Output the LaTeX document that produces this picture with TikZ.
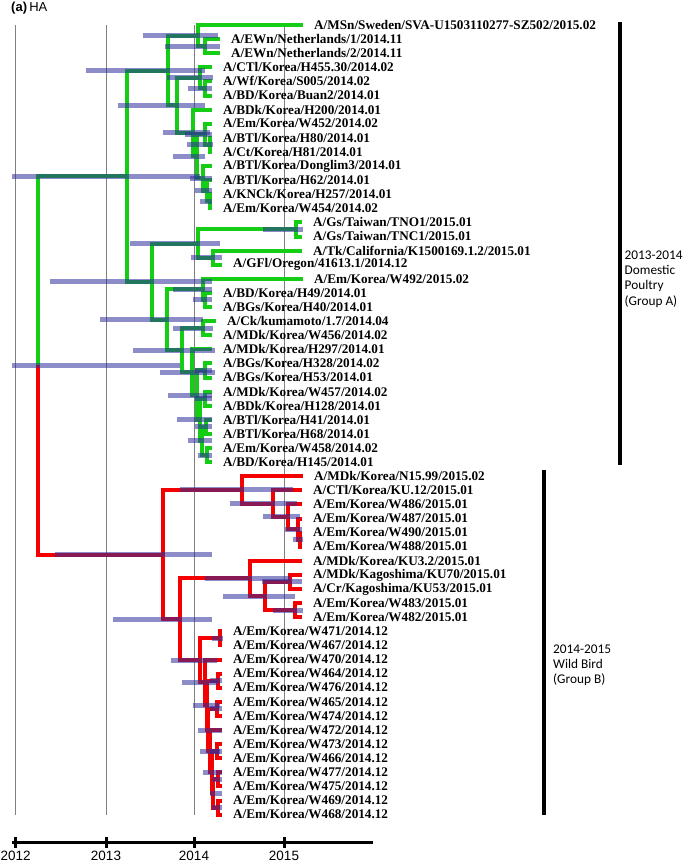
\documentclass[tikz,border=0pt]{standalone}
\usepackage{fontspec}
\setmainfont{Liberation Serif}
\newfontfamily\sansf{Liberation Sans}
\newfontfamily\calib{Carlito}
\definecolor{gr}{RGB}{20,205,20}
\definecolor{rd}{RGB}{245,0,0}
\definecolor{hpdc}{RGB}{46,46,155}
\definecolor{gridc}{RGB}{128,128,128}
\newcommand\mytip[3]{\coordinate (t#1) at (#2,{25+(#1-1)*14.1}); \node[lab] (l#1) at ([xshift=11pt]t#1) {#3};}
\newcommand\myhpd[3]{\draw[hpdst] (#2,0 |- #1) -- (#3,0 |- #1);}
\begin{document}
\begin{tikzpicture}[x=1pt,y=-1pt,
  gbr/.style={draw=gr,line width=4pt},
  rbr/.style={draw=rd,line width=4pt},
  hpdst/.style={draw=hpdc,draw opacity=0.55,line width=5pt},
  lab/.style={anchor=west,inner sep=0pt,font=\fontsize{13.2}{14}\selectfont\bfseries},
  gridl/.style={draw=gridc,line width=1pt},
  grplab/.style={anchor=west,inner sep=0pt,align=left,font=\calib\fontsize{13.3}{15.2}\selectfont},
  axlab/.style={inner sep=0pt,font=\sansf\fontsize{13.5}{15}\selectfont}]
\useasboundingbox (0,0) rectangle (685,862);
% title
\node[anchor=west,inner sep=0pt,font=\sansf\fontsize{13}{15}\selectfont] (title) at (11,8.5) {\textbf{(a)}\,HA};
% grid
\foreach \gx in {15,106,194,284} \draw[gridl] (\gx,25) -- (\gx,815);
% tips
\mytip{1}{303}{A/MSn/Sweden/SVA-U1503110277-SZ502/2015.02}
\mytip{2}{220}{A/EWn/Netherlands/1/2014.11}
\mytip{3}{220}{A/EWn/Netherlands/2/2014.11}
\mytip{4}{212}{A/CTl/Korea/H455.30/2014.02}
\mytip{5}{212}{A/Wf/Korea/S005/2014.02}
\mytip{6}{212}{A/BD/Korea/Buan2/2014.01}
\mytip{7}{212}{A/BDk/Korea/H200/2014.01}
\mytip{8}{212}{A/Em/Korea/W452/2014.02}
\mytip{9}{212}{A/BTl/Korea/H80/2014.01}
\mytip{10}{212}{A/Ct/Korea/H81/2014.01}
\mytip{11}{212}{A/BTl/Korea/Donglim3/2014.01}
\mytip{12}{212}{A/BTl/Korea/H62/2014.01}
\mytip{13}{212}{A/KNCk/Korea/H257/2014.01}
\mytip{14}{212}{A/Em/Korea/W454/2014.02}
\mytip{15}{302}{A/Gs/Taiwan/TNO1/2015.01}
\mytip{16}{302}{A/Gs/Taiwan/TNC1/2015.01}
\mytip{17}{302}{A/Tk/California/K1500169.1.2/2015.01}
\mytip{18}{222}{A/GFl/Oregon/41613.1/2014.12}
\mytip{19}{303}{A/Em/Korea/W492/2015.02}
\mytip{20}{212}{A/BD/Korea/H49/2014.01}
\mytip{21}{212}{A/BGs/Korea/H40/2014.01}
\mytip{22}{216}{A/Ck/kumamoto/1.7/2014.04}
\mytip{23}{212}{A/MDk/Korea/W456/2014.02}
\mytip{24}{212}{A/MDk/Korea/H297/2014.01}
\mytip{25}{212}{A/BGs/Korea/H328/2014.02}
\mytip{26}{212}{A/BGs/Korea/H53/2014.01}
\mytip{27}{212}{A/MDk/Korea/W457/2014.02}
\mytip{28}{212}{A/BDk/Korea/H128/2014.01}
\mytip{29}{212}{A/BTl/Korea/H41/2014.01}
\mytip{30}{212}{A/BTl/Korea/H68/2014.01}
\mytip{31}{212}{A/Em/Korea/W458/2014.02}
\mytip{32}{212}{A/BD/Korea/H145/2014.01}
\mytip{33}{303}{A/MDk/Korea/N15.99/2015.02}
\mytip{34}{302}{A/CTl/Korea/KU.12/2015.01}
\mytip{35}{302}{A/Em/Korea/W486/2015.01}
\mytip{36}{302}{A/Em/Korea/W487/2015.01}
\mytip{37}{302}{A/Em/Korea/W490/2015.01}
\mytip{38}{302}{A/Em/Korea/W488/2015.01}
\mytip{39}{302}{A/MDk/Korea/KU3.2/2015.01}
\mytip{40}{302}{A/MDk/Kagoshima/KU70/2015.01}
\mytip{41}{302}{A/Cr/Kagoshima/KU53/2015.01}
\mytip{42}{302}{A/Em/Korea/W483/2015.01}
\mytip{43}{302}{A/Em/Korea/W482/2015.01}
\mytip{44}{222}{A/Em/Korea/W471/2014.12}
\mytip{45}{222}{A/Em/Korea/W467/2014.12}
\mytip{46}{222}{A/Em/Korea/W470/2014.12}
\mytip{47}{222}{A/Em/Korea/W464/2014.12}
\mytip{48}{222}{A/Em/Korea/W476/2014.12}
\mytip{49}{222}{A/Em/Korea/W465/2014.12}
\mytip{50}{222}{A/Em/Korea/W474/2014.12}
\mytip{51}{222}{A/Em/Korea/W472/2014.12}
\mytip{52}{222}{A/Em/Korea/W473/2014.12}
\mytip{53}{222}{A/Em/Korea/W466/2014.12}
\mytip{54}{222}{A/Em/Korea/W477/2014.12}
\mytip{55}{222}{A/Em/Korea/W475/2014.12}
\mytip{56}{222}{A/Em/Korea/W469/2014.12}
\mytip{57}{222}{A/Em/Korea/W468/2014.12}
% internal nodes
\coordinate (R) at (38,365.35);
\coordinate (GA) at (127,176.1);
\coordinate (N2) at (168,70.5);
\coordinate (N1) at (198,35.6);
\coordinate (NL) at (205,46.15);
\coordinate (N3) at (177,105.4);
\coordinate (N4) at (200,77.9);
\coordinate (WB) at (205,88.45);
\coordinate (N5) at (193,132.95);
\coordinate (N6) at (197,156.3);
\coordinate (N7) at (205,134.3);
\coordinate (Q910) at (210,144.85);
\coordinate (N8) at (203,178.35);
\coordinate (Q1214) at (207,190.7);
\coordinate (Q1314) at (210,201.25);
\coordinate (A2) at (152,281.7);
\coordinate (A3) at (198,243.55);
\coordinate (TW) at (296,229.45);
\coordinate (CO) at (213,257.65);
\coordinate (A4) at (167,319.8);
\coordinate (A5) at (203,289.4);
\coordinate (Q2021) at (205,299.95);
\coordinate (A6) at (182,350.2);
\coordinate (A7) at (203,328.15);
\coordinate (A8) at (192,372.2);
\coordinate (A9) at (197,395.1);
\coordinate (A10) at (205,370.45);
\coordinate (A11) at (200,419.8);
\coordinate (Q2728) at (205,398.65);
\coordinate (A12) at (202,440.95);
\coordinate (Q2930) at (206,426.85);
\coordinate (Q3132) at (207,455.05);
\coordinate (B) at (163,554.6);
\coordinate (B1) at (242,489.85);
\coordinate (B3) at (273,503.5);
\coordinate (B4) at (288,516.75);
\coordinate (B5) at (298,529.1);
\coordinate (B6) at (300,539.65);
\coordinate (B2) at (180,619.4);
\coordinate (B7) at (250,578.4);
\coordinate (B9) at (265,596.05);
\coordinate (Q4041) at (290,581.95);
\coordinate (Q4243) at (295,610.15);
\coordinate (B8) at (200,660.4);
\coordinate (Q4445) at (220,638.35);
\coordinate (B11) at (205,682.4);
\coordinate (B12) at (207,705.3);
\coordinate (Q4748) at (218,680.65);
\coordinate (B13) at (208,730);
\coordinate (Q4950) at (217,708.85);
\coordinate (B14) at (210,751.15);
\coordinate (B15) at (212,772.3);
\coordinate (Q5253) at (217,751.15);
\coordinate (B16) at (213,793.45);
\coordinate (Q5455) at (218,779.35);
\coordinate (Q5657) at (218,807.55);
% green branches
\foreach \p/\c in {R/GA,GA/N2,GA/A2,N2/N1,N2/N3,N1/t1,N1/NL,NL/t2,NL/t3,N3/N4,N3/N5,N4/t4,N4/WB,WB/t5,WB/t6,
  N5/t7,N5/N6,N6/N7,N6/N8,N7/t8,N7/Q910,Q910/t9,Q910/t10,N8/t11,N8/Q1214,Q1214/t12,Q1214/Q1314,Q1314/t13,Q1314/t14,
  A2/A3,A2/A4,A3/TW,A3/CO,TW/t15,TW/t16,CO/t17,CO/t18,A4/A5,A4/A6,A5/t19,A5/Q2021,Q2021/t20,Q2021/t21,
  A6/A7,A6/A8,A7/t22,A7/t23,A8/t24,A8/A9,A9/A10,A9/A11,A10/t25,A10/t26,A11/Q2728,A11/A12,Q2728/t27,Q2728/t28,
  A12/Q2930,A12/Q3132,Q2930/t29,Q2930/t30,Q3132/t31,Q3132/t32}
  \draw[gbr] (\p) |- (\c);
% red branches
\foreach \p/\c in {R/B,B/B1,B/B2,B1/t33,B1/B3,B3/t34,B3/B4,B4/t35,B4/B5,B5/t36,B5/B6,B6/t37,B6/t38,
  B2/B7,B2/B8,B7/t39,B7/B9,B9/Q4041,B9/Q4243,Q4041/t40,Q4041/t41,Q4243/t42,Q4243/t43,
  B8/Q4445,B8/B11,Q4445/t44,Q4445/t45,B11/t46,B11/B12,B12/Q4748,B12/B13,Q4748/t47,Q4748/t48,
  B13/Q4950,B13/B14,Q4950/t49,Q4950/t50,B14/t51,B14/B15,B15/Q5253,B15/B16,Q5253/t52,Q5253/t53,
  B16/Q5455,B16/Q5657,Q5455/t54,Q5455/t55,Q5657/t56,Q5657/t57}
  \draw[rbr] (\p) |- (\c);
% HPD bars
\myhpd{R}{12}{180}
\myhpd{GA}{12}{200}
\myhpd{N2}{86}{205}
\myhpd{N1}{143}{218}
\myhpd{NL}{165}{220}
\myhpd{N3}{118}{205}
\myhpd{N4}{167}{213}
\myhpd{WB}{188}{212}
\myhpd{N5}{163}{210}
\myhpd{N7}{185}{212}
\myhpd{Q910}{187}{213}
\myhpd{N6}{173}{205}
\myhpd{N8}{190}{212}
\myhpd{Q1214}{195}{212}
\myhpd{Q1314}{200}{212}
\myhpd{A2}{50}{212}
\myhpd{A3}{130}{220}
\myhpd{TW}{263}{303}
\myhpd{CO}{191}{222}
\myhpd{A4}{100}{203}
\myhpd{A5}{173}{212}
\myhpd{Q2021}{193}{212}
\myhpd{A6}{133}{215}
\myhpd{A7}{173}{213}
\myhpd{A8}{160}{215}
\myhpd{A9}{168}{212}
\myhpd{A10}{195}{212}
\myhpd{Q2728}{195}{212}
\myhpd{A11}{177}{212}
\myhpd{A12}{188}{212}
\myhpd{Q2930}{195}{212}
\myhpd{Q3132}{198}{212}
\myhpd{B}{55}{212}
\myhpd{B1}{180}{293}
\myhpd{B3}{230}{297}
\myhpd{B4}{263}{300}
\myhpd{B5}{285}{302}
\myhpd{B6}{293}{303}
\myhpd{B2}{113}{212}
\myhpd{B7}{205}{290}
\myhpd{B9}{223}{295}
\myhpd{Q4041}{262}{302}
\myhpd{Q4243}{273}{303}
\myhpd{B8}{171}{217}
\myhpd{Q4445}{212}{223}
\myhpd{B11}{182}{218}
\myhpd{B12}{193}{220}
\myhpd{Q4748}{210}{222}
\myhpd{B13}{198}{222}
\myhpd{Q4950}{210}{222}
\myhpd{B14}{200}{220}
\myhpd{B15}{203}{222}
\myhpd{Q5253}{210}{222}
\myhpd{B16}{210}{222}
\myhpd{Q5455}{212}{222}
\myhpd{Q5657}{212}{222}
% group bars and labels
\coordinate (gat) at (620,22);
\coordinate (gab) at (620,465);
\coordinate (gbt) at (544,470);
\coordinate (gbb) at (544,815);
\draw[line width=3.5pt] (gat) -- (gab);
\draw[line width=3.5pt] (gbt) -- (gbb);
\node[grplab] (ga) at (624.5,279) {2013-2014\\Domestic\\Poultry\\(Group A)};
\node[grplab] (gb) at (553,665) {2014-2015\\Wild Bird\\(Group B)};
% axis
\coordinate (ax0) at (12,842);
\coordinate (ax1) at (373,842);
\draw[line width=3pt] (ax0) -- (ax1);
\foreach \gx/\yr in {15/2012,106/2013,194/2014,284/2015}{
  \draw[line width=3pt] (\gx,837) -- (\gx,848);
}
\node[axlab,anchor=west] (y2012) at (0.5,855.5) {2012};
\foreach \gx/\yr in {106/2013,194/2014,284/2015}{
  \node[axlab] (y\yr) at (\gx,855.5) {\yr};
}
\end{tikzpicture}
\end{document}
